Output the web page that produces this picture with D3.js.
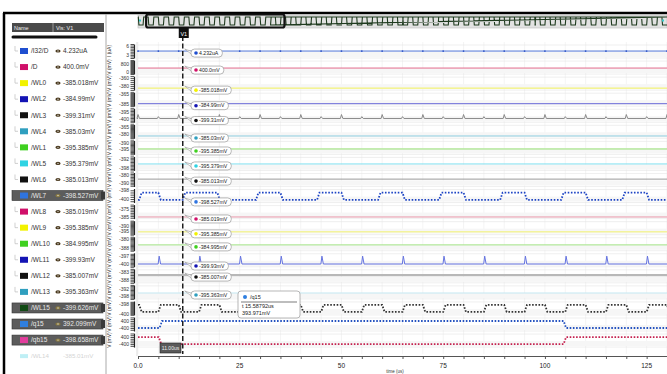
<!DOCTYPE html>
<html lang="en">
<head>
<meta charset="UTF-8">
<title>Waveforms</title>
<script src="https://d3js.org/d3.v7.min.js"></script>
<style>
  body { margin: 0; background: #fff; }
  svg text { font-family: "Liberation Sans", Arial, sans-serif; }
</style>
</head>
<body>
<svg width="667" height="374"></svg>
<script>
// signals, top to bottom
const names = ["/I32/D", "/D", "/WL0", "/WL2", "/WL3", "/WL4", "/WL1", "/WL5", "/WL6", "/WL7",
  "/WL8", "/WL9", "/WL10", "/WL11", "/WL12", "/WL13", "/WL15", "/q15", "/qb15"];
const readouts = ["4.232uA", "400.0mV", "-385.018mV", "-384.99mV", "-399.31mV", "-385.03mV", "-395.385mV",
  "-395.379mV", "-385.013mV", "-398.527mV", "-385.019mV", "-395.385mV", "-384.995mV", "-399.93mV",
  "-385.007mV", "-395.363mV", "-399.626mV", "392.099mV", "-398.658mV"];
const levels = [4.232, 400, -385.018, -384.99, -399.31, -385.03, -395.385, -395.379, -385.013, -398.527,
  -385.019, -395.385, -384.995, -399.93, -385.007, -395.363, -399.626, 392.099, -398.658];
const swatch = ["#1f4fd0", "#d0106a", "#f2f200", "#1414b4", "#111111", "#2f9fbf", "#3fd020", "#2fd3e3",
  "#111111", "#2f74e0", "#d0106a", "#f2f200", "#3fd020", "#1414b4", "#111111", "#2f9fbf", "#114a14",
  "#2f7fe0", "#e23c9c"];
const traceColor = ["#4f73d6", "#e36b8c", "#f2f25a", "#6a6ad8", "#8a8a8a", "#8fcfe0", "#94e070", "#7fe0f0",
  "#9a9a9a", "#1c43c4", "#e896a8", "#f2f26e", "#a2e486", "#6473e0", "#b8b8b8", "#c4e8f2", "#333333",
  "#2452c0", "#c4204e"];
const yDomains = [[2, 6.5], [-200, 1200], [-390, -355], [-390, -362], [-402, -392], [-390, -360],
  [-400, -388], [-400, -390], [-395, -376], [-400.8, -397.6], [-387, -370], [-398, -385], [-390, -378],
  [-401, -395.6], [-390, -381], [-400, -389], [-400.23, -397.43], [-740, 845], [-740, 845]];
const yTicks = [[3, 6], [0, 800], [-380, -360], [-385, -365], [-400, -395], [-380, -365], [-395, -390],
  [-398, -392], [-390, -380], [-400, -398], [-385, -375], [-395, -390], [-388, -380], [-400, -397],
  [-388, -383], [-398, -392], [-400, -398], [-400, 400], [-400, 400]];
const selected = ["/WL7", "/WL15", "/q15", "/qb15"];

// time axis (us)
const timeTicks = [0, 25, 50, 75, 100, 125];
const tCursor = 11.0;

// periodic glitches / markers
const i32Marks = [0, 5, 10, 15, 20, 25, 30, 35, 40, 45, 50, 55, 60, 65, 70, 75, 80, 85, 90, 95, 100, 105, 110, 115, 120, 125, 130];
const wl3Spikes = [[0, -396.5], [5, -398], [10, -396.5], [15, -398], [20, -396.5], [25, -398], [30, -396.5],
  [35, -398], [40, -396.5], [45, -398], [50, -396.5], [55, -398], [60, -396.5], [65, -398], [70, -396.5],
  [75, -398], [80, -396.5], [85, -398], [90, -396.5], [95, -398], [100, -396.5], [105, -398],
  [110, -396.5], [115, -398], [120, -396.5], [125, -398], [130, -396.5]];
const wl11Spikes = [[5.2, -396.9], [15.2, -396.9], [25.2, -396.9], [35.2, -396.9], [45.2, -396.9], [55.2, -396.9],
  [65.2, -396.9], [75.2, -396.9], [85.2, -396.9], [95.2, -396.9], [105.2, -396.9], [115.2, -396.9], [125.2, -396.9]];

// square waves: low / high level, starting state, toggle times
const wl7 = { lo: -400.2, hi: -398.527, startHigh: false,
  edges: [0.3, 5, 11, 19.5, 29, 35, 44, 50, 59, 65, 74, 80, 89, 95, 104, 110, 119, 125] };
const wl15 = { lo: -399.626, hi: -398.2, startHigh: true,
  edges: [0.3, 5, 10, 15, 20, 25, 30, 35, 40, 45, 50, 55, 60, 65, 70, 75, 80, 85, 90, 95, 100, 105, 110, 115, 120, 125, 130] };
const q15 = { lo: -398.7, hi: 392.099, startHigh: false, edges: [5.3, 104.6] };
const qb15 = { lo: -398.658, hi: 392.0, startHigh: true, edges: [5.1, 104.6] };

const svg = d3.select("svg");
const x = d3.scaleLinear().domain([0, 130]).range([138, 667]);
const rowC = i => 51 + 16.06 * i;
const yOf = i => d3.scaleLinear().domain(yDomains[i]).range([rowC(i) + 7, rowC(i) - 7]);

function stepSeries(w) {
  let s = w.startHigh;
  const pts = [[0, s ? w.hi : w.lo]];
  w.edges.forEach(t => {
    pts.push([t, s ? w.hi : w.lo]);
    s = !s;
    pts.push([t + 0.6, s ? w.hi : w.lo]);
  });
  pts.push([130, s ? w.hi : w.lo]);
  return pts;
}
function spikeSeries(base, spikes) {
  const pts = [[0, base]];
  spikes.forEach(([t, v]) => { pts.push([t - 0.25, base], [t, v], [t + 0.35, base]); });
  pts.push([130, base]);
  return pts;
}
function seriesFor(i) {
  const n = names[i];
  if (n === "/WL3") return spikeSeries(levels[i], wl3Spikes);
  if (n === "/WL11") return spikeSeries(levels[i], wl11Spikes);
  if (n === "/WL7") return stepSeries(wl7);
  if (n === "/WL15") return stepSeries(wl15);
  if (n === "/q15") return stepSeries(q15);
  if (n === "/qb15") return stepSeries(qb15);
  return [[0, levels[i]], [130, levels[i]]];
}
function valueAt(pts, t) {
  let v = pts[0][1];
  pts.forEach(p => { if (p[0] <= t) v = p[1]; });
  return v;
}

// ---------- frame ----------
svg.append("line").attr("x1", 3).attr("x2", 667).attr("y1", 13).attr("y2", 13)
  .attr("stroke", "#000").attr("stroke-width", 2.5);
svg.append("line").attr("x1", 4).attr("x2", 4).attr("y1", 13).attr("y2", 374)
  .attr("stroke", "#000").attr("stroke-width", 2.5);
svg.append("line").attr("x1", 106).attr("x2", 106).attr("y1", 14).attr("y2", 374)
  .attr("stroke", "#aaa").attr("stroke-width", 1);

// ---------- name panel ----------
svg.append("rect").attr("x", 12).attr("y", 23).attr("width", 92).attr("height", 9).attr("fill", "#4a4a4a");
svg.append("text").attr("x", 14).attr("y", 30).attr("font-size", 5.5).attr("fill", "#eee").text("Name");
svg.append("line").attr("x1", 53).attr("x2", 53).attr("y1", 23).attr("y2", 32).attr("stroke", "#999");
svg.append("text").attr("x", 56).attr("y", 30).attr("font-size", 5.5).attr("fill", "#eee").text("Vis: V1");
svg.append("line").attr("x1", 13).attr("x2", 96).attr("y1", 37).attr("y2", 37)
  .attr("stroke", "#111").attr("stroke-width", 3).attr("stroke-linecap", "round");

const rows = svg.append("g");
names.forEach((n, i) => {
  const c = rowC(i);
  const sel = selected.includes(n);
  const g = rows.append("g");
  if (sel) {
    g.append("rect").attr("x", 12).attr("y", c - 5).attr("width", 91).attr("height", 10)
      .attr("fill", "#5c5c5c").attr("stroke", "#333").attr("stroke-width", 0.6);
  } else {
    g.append("path").attr("d", `M15,${c - 5}V${c}H18`).attr("fill", "none").attr("stroke", "#bbb").attr("stroke-width", 0.7);
  }
  g.append("rect").attr("x", 20).attr("y", c - 3).attr("width", 8).attr("height", 6).attr("fill", swatch[i]);
  g.append("text").attr("x", 31).attr("y", c + 2.3).attr("font-size", 6.5)
    .attr("fill", sel ? "#e8e8e8" : "#333").text(n);
  g.append("ellipse").attr("cx", 58).attr("cy", c).attr("rx", 2.6).attr("ry", 1.6)
    .attr("fill", sel ? "#8a7a40" : "#4b3a1e");
  g.append("circle").attr("cx", 58).attr("cy", c).attr("r", 0.7).attr("fill", "#ddd");
  g.append("text").attr("x", 63).attr("y", c + 2.3).attr("font-size", 6.5)
    .attr("fill", sel ? "#e8e8e8" : "#333").text(readouts[i]);
});
// faint trailing row
rows.append("rect").attr("x", 20).attr("y", rowC(19) - 2).attr("width", 8).attr("height", 4)
  .attr("fill", "#bfeff5");
rows.append("text").attr("x", 31).attr("y", rowC(19) + 2).attr("font-size", 6.2).attr("fill", "#d4d4d4").text("/WL14");
rows.append("text").attr("x", 63).attr("y", rowC(19) + 2).attr("font-size", 6.2).attr("fill", "#d4d4d4").text("-385.01mV");

// ---------- overview strip ----------
const ov = d3.scaleLinear().domain([0, 520]).range([138, 667]);
const ovY = d3.scaleLinear().domain([wl15.lo, wl15.hi]).range([25, 17]);
const ovEdges = [0, 130, 260, 390].flatMap(o => wl15.edges.map(t => t + o)).filter(t => t < 516);
const ovPts = stepSeries({ lo: wl15.lo, hi: wl15.hi, startHigh: true, edges: ovEdges }).map(p => p[0] === 130 ? [520, p[1]] : p);
svg.append("rect").attr("x", 138).attr("y", 15).attr("width", 529).attr("height", 13)
  .attr("fill", "#e2e2e2").attr("stroke", "#bbb").attr("stroke-width", 0.6);
svg.append("path").datum(ovPts)
  .attr("d", d3.line().x(d => ov(d[0])).y(d => ovY(d[1])))
  .attr("fill", "none").attr("stroke", "#1e3a1e").attr("stroke-width", 1.1);
svg.append("rect").attr("x", ov(8)).attr("y", 14.5).attr("width", ov(144) - ov(8)).attr("height", 13)
  .attr("rx", 2).attr("fill", "none").attr("stroke", "#111").attr("stroke-width", 2.2);
svg.append("rect").attr("x", 139).attr("y", 19.5).attr("width", 2).attr("height", 2).attr("fill", "#3cc");
svg.append("rect").attr("x", 662).attr("y", 19.5).attr("width", 2).attr("height", 2).attr("fill", "#3cc");

// ---------- plot grid ----------
const grid = svg.append("g");
d3.range(0, 131, 5).forEach(t => {
  grid.append("line").attr("x1", x(t)).attr("x2", x(t)).attr("y1", 42).attr("y2", 354)
    .attr("stroke", "#ececec").attr("stroke-width", 0.6);
});
names.forEach((n, i) => {
  const c = rowC(i);
  grid.append("rect").attr("x", 138).attr("y", c + 1).attr("width", 529).attr("height", 5).attr("fill", "#f6f6f6");
  [c - 6, c + 7].forEach(yy => grid.append("line").attr("x1", 138).attr("x2", 667).attr("y1", yy).attr("y2", yy)
    .attr("stroke", "#e4e4e4").attr("stroke-width", 0.6));
});
svg.append("line").attr("x1", 137).attr("x2", 137).attr("y1", 42).attr("y2", 356).attr("stroke", "#ddd");

// ---------- per-row y axes ----------
names.forEach((n, i) => {
  const y = yOf(i);
  const c = rowC(i);
  const ax = svg.append("g").attr("transform", "translate(134,0)")
    .call(d3.axisLeft(y).ticks(10).tickSize(3.5).tickSizeOuter(0).tickFormat(""));
  ax.selectAll("line").attr("stroke", "#222").attr("stroke-width", 0.8);
  ax.select(".domain").attr("stroke", "#222").attr("stroke-width", 1.2);
  yTicks[i].forEach(v => {
    svg.append("text").attr("x", 129).attr("y", y(v) + 2).attr("text-anchor", "end")
      .attr("font-size", 5).attr("fill", "#333").text(v);
  });
  svg.append("text").attr("transform", `translate(111,${c}) rotate(-90)`).attr("text-anchor", "middle")
    .attr("font-size", 5).attr("fill", "#333").text(i === 0 ? "I (uA)" : "V (mV)");
  if (selected.includes(n)) {
    svg.append("rect").attr("x", 101).attr("y", c - 4).attr("width", 4).attr("height", 8).attr("fill", "#3a3a3a");
  }
});

// ---------- traces ----------
const traces = svg.append("g");
names.forEach((n, i) => {
  const y = yOf(i);
  const pts = seriesFor(i);
  const dotted = ["/WL7", "/WL15", "/q15", "/qb15"].includes(n);
  traces.append("path").datum(pts)
    .attr("d", d3.line().x(d => x(d[0])).y(d => y(d[1])))
    .attr("fill", "none").attr("stroke", traceColor[i])
    .attr("stroke-width", dotted ? 1.8 : (n === "/WL12" ? 2.2 : 1))
    .attr("stroke-dasharray", dotted ? "1.6,1.6" : null);
});
traces.selectAll(".i32m").data(i32Marks).join("circle")
  .attr("cx", d => x(d)).attr("cy", yOf(0)(levels[0])).attr("r", 0.9).attr("fill", "#2f55c8");

// ---------- cursor ----------
const cx = x(tCursor);
svg.append("line").attr("x1", cx).attr("x2", cx).attr("y1", 36).attr("y2", 354)
  .attr("stroke", "#111").attr("stroke-width", 1.4).attr("stroke-dasharray", "5,2.5");
svg.append("rect").attr("x", cx - 4).attr("y", 28).attr("width", 10).attr("height", 10).attr("fill", "#111");
svg.append("text").attr("x", cx + 1).attr("y", 35.5).attr("text-anchor", "middle").attr("font-size", 5.5)
  .attr("fill", "#fff").text("V1");

// value callouts at cursor
const callouts = svg.append("g");
names.forEach((n, i) => {
  if (i > 15) return;
  const y = yOf(i);
  const ty = y(valueAt(seriesFor(i), tCursor));
  const by = ty + 2;
  const g = callouts.append("g");
  const label = g.append("text").attr("x", 199).attr("y", by + 1.8).attr("font-size", 5.2)
    .attr("fill", "#222").text(readouts[i]);
  const w = label.node().getComputedTextLength() + 12;
  g.insert("path", "text")
    .attr("d", `M${cx + 2},${ty - 2}L192,${by - 1.5}L192,${by + 1.5}Z`)
    .attr("fill", "#fff").attr("stroke", "#999").attr("stroke-width", 0.6);
  g.insert("rect", "text").attr("x", 191).attr("y", by - 4).attr("width", w).attr("height", 8).attr("rx", 3.5)
    .attr("fill", "#fff").attr("stroke", "#999").attr("stroke-width", 0.7);
  g.append("circle").attr("cx", 196).attr("cy", by).attr("r", 1.8).attr("fill", swatch[i]);
});

// hover tooltip on /q15
const tip = svg.append("g").attr("transform", "translate(238,291)");
tip.append("rect").attr("width", 62).attr("height", 27).attr("rx", 3)
  .attr("fill", "#fff").attr("stroke", "#999").attr("stroke-width", 0.7);
tip.append("circle").attr("cx", 7).attr("cy", 6).attr("r", 2).attr("fill", swatch[17]);
tip.append("text").attr("x", 12).attr("y", 8).attr("font-size", 5.5).attr("fill", "#222").text("/q15");
tip.append("line").attr("x1", 3).attr("x2", 59).attr("y1", 11).attr("y2", 11).attr("stroke", "#222").attr("stroke-width", 0.6);
tip.append("text").attr("x", 4).attr("y", 17).attr("font-size", 5.5).attr("fill", "#222").text("t 15.58792us");
tip.append("text").attr("x", 4).attr("y", 24).attr("font-size", 5.5).attr("fill", "#222").text("393.971mV");

// ---------- time axis ----------
const xa = svg.append("g").attr("transform", "translate(0,356)")
  .call(d3.axisBottom(x).tickValues(d3.range(0, 131, 5)).tickSize(3).tickSizeOuter(0).tickFormat(""));
xa.select(".domain").attr("stroke", "#555");
xa.selectAll("line").attr("stroke", "#555");
timeTicks.forEach(t => {
  svg.append("text").attr("x", x(t)).attr("y", 368).attr("text-anchor", "middle").attr("font-size", 6.5)
    .attr("fill", "#222").text(t === 0 ? "0.0" : t);
});
svg.append("text").attr("x", 395).attr("y", 373).attr("text-anchor", "middle").attr("font-size", 4.5)
  .attr("fill", "#333").text("time (us)");

// cursor time label
svg.append("rect").attr("x", 160).attr("y", 343).attr("width", 21).attr("height", 10)
  .attr("fill", "#5a5a5a").attr("stroke", "#222").attr("stroke-width", 0.6);
svg.append("text").attr("x", 170.5).attr("y", 350).attr("text-anchor", "middle").attr("font-size", 5)
  .attr("fill", "#eee").text("11.00us");
</script>
</body>
</html>
